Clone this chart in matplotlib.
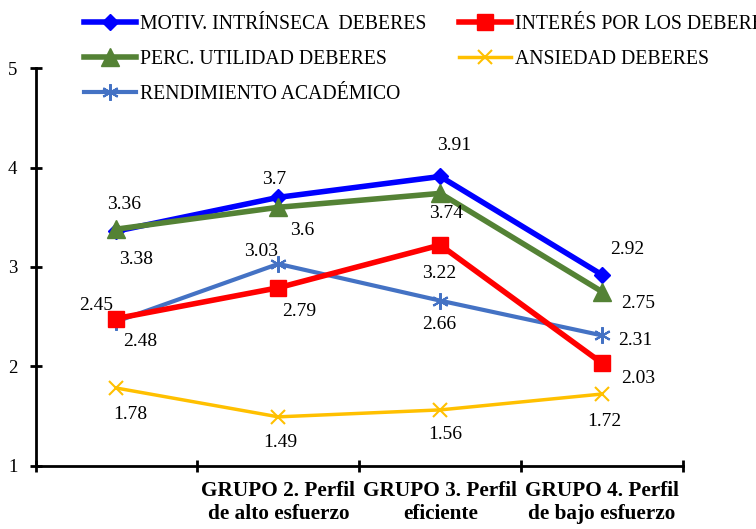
import matplotlib
matplotlib.use("Agg")
import matplotlib.pyplot as plt
import numpy as np

plt.rcParams['font.family'] = ['Liberation Serif', 'DejaVu Serif']

categories = ["", "GRUPO 2. Perfil\nde alto esfuerzo", "GRUPO 3. Perfil\neficiente", "GRUPO 4. Perfil\nde bajo esfuerzo"]
series_names = ["MOTIV. INTRÍNSECA  DEBERES", "PERC. UTILIDAD DEBERES", "RENDIMIENTO ACADÉMICO",
                "INTERÉS POR LOS DEBERES", "ANSIEDAD DEBERES"]
motiv = [3.36, 3.7, 3.91, 2.92]
perc = [3.38, 3.6, 3.74, 2.75]
rend = [2.45, 3.03, 2.66, 2.31]
interes = [2.48, 2.79, 3.22, 2.03]
ansiedad = [1.78, 1.49, 1.56, 1.72]
yticks = [1, 2, 3, 4, 5]

styles = [
    dict(color='#0000FF', lw=4, marker='D', ms=8),
    dict(color='#548235', lw=4, marker='^', ms=13),
    dict(color='#4472C4', lw=3, marker=(6, 2, 0), ms=12, mew=1.5),
    dict(color='#FF0000', lw=4, marker='s', ms=12),
    dict(color='#FFC000', lw=2.5, marker='x', ms=10, mew=1.5),
]
# label offsets in pixels (dx, dy), y up
offsets = [
    [(8, 27), (-4, 18), (14, 31), (25, 25)],
    [(20, -30), (24, -23), (6, -20), (36, -12)],
    [(-20, 16), (-17, 12), (-1, -24), (33, -5)],
    [(24, -23), (21, -24), (-1, -28), (36, -15)],
    [(14, -26), (2, -26), (5, -25), (2, -27)],
]

fig = plt.figure(figsize=(7.56, 5.29), dpi=100)
ax = fig.add_axes([0.047, 0.120, 0.8565, 0.751])
x = np.arange(len(categories)) + 0.5
data = [motiv, perc, rend, interes, ansiedad]
handles = []
for name, vals, st, offs in zip(series_names, data, styles, offsets):
    h, = ax.plot(x, vals, label=name, **st)
    handles.append(h)
    for xi, v, (dx, dy) in zip(x, vals, offs):
        ax.annotate(f"{v:g}", (xi, v), xytext=(dx * 0.72, dy * 0.72), textcoords='offset points',
                    ha='center', va='center', fontsize=14)

ax.set_xlim(0, len(categories))
ax.set_ylim(1, 5)
ax.set_yticks(yticks)
ax.set_xticks(np.arange(len(categories) + 1))
ax.set_xticklabels([])
ax.set_xticks(x, minor=True)
ax.set_xticklabels(categories, minor=True, fontsize=15.3, fontweight='bold', linespacing=1.2)
ax.tick_params(axis='x', which='minor', length=0, pad=11)
ax.tick_params(axis='x', which='major', direction='inout', length=8, width=2)
ax.tick_params(axis='y', direction='inout', length=8, width=2, labelsize=13.5, pad=9)
for s in ['top', 'right']:
    ax.spines[s].set_visible(False)
for s in ['left', 'bottom']:
    ax.spines[s].set_linewidth(2)

fig.legend(handles=handles, loc='upper left', bbox_to_anchor=(0.088, 1.006), ncol=2,
           frameon=False, fontsize=14.2, handlelength=2.6, columnspacing=1.7, labelspacing=0.83,
           handletextpad=0.2)

fig.savefig("out.png", dpi=100)
